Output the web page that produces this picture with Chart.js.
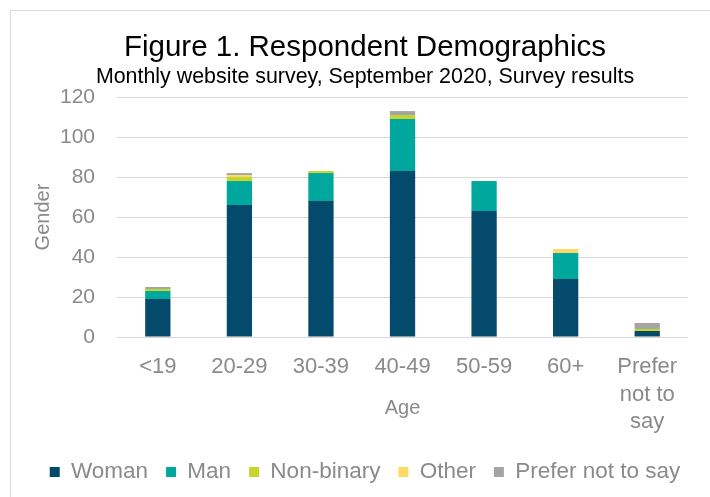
<!DOCTYPE html>
<html>
<head>
<meta charset="utf-8">
<script src="https://cdn.jsdelivr.net/npm/chart.js@4"></script>
<style>
  html, body { margin: 0; padding: 0; background: #fff; overflow: hidden; }
  #wrap { position: relative; width: 710px; height: 497px; }
  #frame { position: absolute; left: 10px; top: 10px; width: 720px; height: 500px;
           border: 1px solid #d9d9d9; pointer-events: none; }
</style>
</head>
<body>
<div id="wrap">
  <canvas id="demoChart" width="710" height="497"></canvas>
  <div id="frame"></div>
</div>
<script>
  // 資料
  const ageGroups = ['<19', '20-29', '30-39', '40-49', '50-59', '60+', ['Prefer', 'not to', 'say']];
  const woman = [19, 66, 68, 83, 63, 29, 3];
  const man = [4, 12, 14, 26, 15, 13, 0];
  const nonBinary = [1, 2, 1, 2, 0, 0, 1];
  const other = [0, 1, 0, 0, 0, 2, 0];
  const preferNot = [1, 1, 0, 2, 0, 0, 3];
  const yTicks = [0, 20, 40, 60, 80, 100, 120];

  const fontFamily = '"Liberation Sans", Arial, sans-serif';
  const grayText = '#8a8a8a';

  const barData = {
    labels: ageGroups,
    datasets: [
      { label: 'Woman', data: woman, backgroundColor: '#044a6c' },
      { label: 'Man', data: man, backgroundColor: '#00a79d' },
      { label: 'Non-binary', data: nonBinary, backgroundColor: '#c5d52a' },
      { label: 'Other', data: other, backgroundColor: '#ffd966' },
      { label: 'Prefer not to say', data: preferNot, backgroundColor: '#a5a5a5' },
    ],
  };

  const ctx = document.getElementById('demoChart');

  const demoChart = new Chart(ctx, {
    type: 'bar',
    data: barData,
    options: {
      responsive: false,
      animation: false,
      devicePixelRatio: 1,
      layout: { padding: { left: 20, right: 0, top: 10, bottom: 3.75 } },
      datasets: {
        bar: { barPercentage: 0.31, categoryPercentage: 1, borderWidth: 0 }
      },
      plugins: {
        title: {
          display: true,
          text: 'Figure 1. Respondent Demographics',
          color: '#000',
          font: { family: fontFamily, size: 29.5, weight: 'normal' },
          padding: { top: 20.3, bottom: 0 },
        },
        subtitle: {
          display: true,
          text: 'Monthly website survey, September 2020, Survey results',
          color: '#000',
          font: { family: fontFamily, size: 21.4, weight: 'normal' },
          padding: { top: -1.5, bottom: 7.2 },
        },
        legend: {
          position: 'bottom',
          labels: {
            boxWidth: 10,
            boxHeight: 10,
            padding: 18,
            color: grayText,
            font: { family: fontFamily, size: 22.5 },
          },
        },
        tooltip: { enabled: false },
      },
      scales: {
        x: {
          stacked: true,
          grid: { display: false, drawTicks: false },
          border: { display: false },
          ticks: {
            color: grayText,
            padding: 16.25,
            maxRotation: 0,
            minRotation: 0,
            autoSkip: false,
            font: { family: fontFamily, size: 22, lineHeight: 1.25 },
          },
          title: {
            display: true,
            text: 'Age',
            color: grayText,
            font: { family: fontFamily, size: 20 },
            padding: { top: -56, bottom: 22.75 },
          },
        },
        y: {
          stacked: true,
          min: 0,
          max: 120,
          afterBuildTicks: (scale) => {
            scale.ticks = yTicks.map(v => ({ value: v }));
          },
          grid: { color: '#d9d9d9', lineWidth: 1, drawTicks: false },
          border: { display: false },
          ticks: {
            color: grayText,
            padding: 22,
            font: { family: fontFamily, size: 21 },
          },
          title: {
            display: true,
            text: 'Gender',
            color: grayText,
            font: { family: fontFamily, size: 20 },
            padding: { top: 11, bottom: -17 },
          },
        },
        // 右側留白
        yRight: {
          position: 'right',
          display: true,
          grid: { display: false, drawTicks: false },
          border: { display: false },
          ticks: { display: false },
          afterFit: (scale) => { scale.width = 22; },
        },
      },
    },
  });
</script>
</body>
</html>
